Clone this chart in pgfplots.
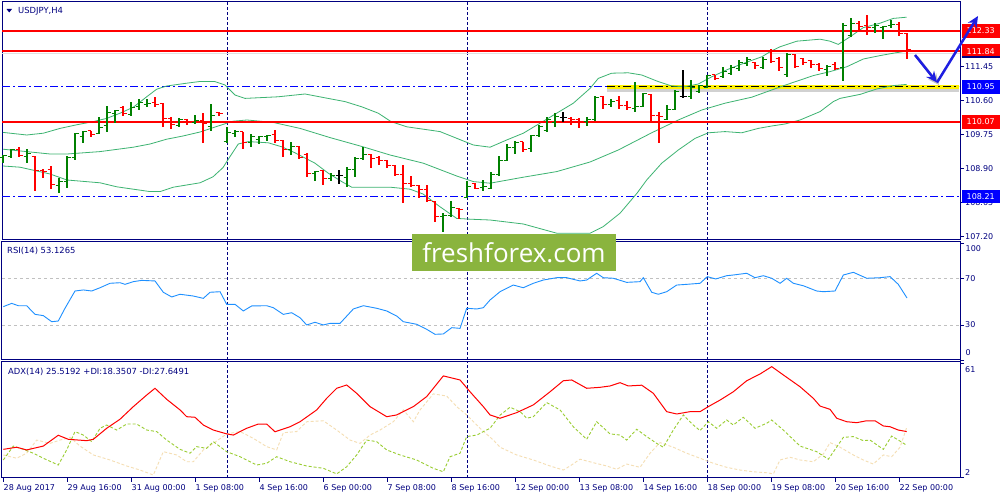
\documentclass[border=0pt]{standalone}
\usepackage{fontspec}
\setmainfont{DejaVu Sans}
\newfontfamily\wmfont{Open Sans}
\usepackage{pgfplots}
\pgfplotsset{compat=1.18}
\usepackage{pgfplotstable}
\usetikzlibrary{arrows.meta}

\definecolor{navy}{RGB}{0,0,128}
\definecolor{upc}{RGB}{0,128,0}
\definecolor{dnc}{RGB}{255,0,0}
\definecolor{band}{RGB}{60,179,113}
\definecolor{rsic}{RGB}{30,144,255}
\definecolor{pdi}{RGB}{154,205,50}
\definecolor{mdi}{RGB}{245,222,179}
\definecolor{hblue}{RGB}{0,0,255}
\definecolor{wm}{RGB}{138,180,62}
\definecolor{arrowc}{RGB}{30,30,225}
\definecolor{silver}{RGB}{192,192,192}

\newcommand{\lbl}{\fontsize{8}{9.6}\selectfont}

\pgfdeclareplotmark{otick}{\pgfpathmoveto{\pgfqpoint{-3.5pt}{0pt}}\pgfpathlineto{\pgfqpoint{0pt}{0pt}}\pgfusepathqstroke}
\pgfdeclareplotmark{ctick}{\pgfpathmoveto{\pgfqpoint{0pt}{0pt}}\pgfpathlineto{\pgfqpoint{3.5pt}{0pt}}\pgfusepathqstroke}

\pgfplotsset{
  mt4/.style={scale only axis, anchor=south west, width=958pt, xmin=-0.125, xmax=119.625,
    axis line style={navy, line width=1pt}, tick style={navy, line width=0.8pt},
    tick align=outside, major tick length=4pt, ytick pos=right, xtick pos=bottom,
    tick label style={font=\lbl, text=navy},
    /pgf/number format/assume math mode=true,
    extra x ticks={28,58,88}, extra x tick labels={},
    extra x tick style={grid=major, major tick length=0pt},
    major grid style={navy, line width=0.9pt, dash pattern=on 3pt off 2pt},
    yticklabel style={anchor=west, inner sep=0pt, xshift=1pt}},
  hlr/.style={only marks, mark=otick, mark options={draw=#1, line width=1pt},
    error bars/y dir=both, error bars/y explicit, error bars/error mark=none,
    error bars/error bar style={draw=#1, line width=1.2pt}},
  cls/.style={only marks, mark=ctick, mark options={draw=#1, line width=1pt}},
  hline/.style={color=#1, solid, line width=1.6pt, mark=none},
}

% OHLC bars (H4), split by colour: up (green), down (red), doji (black)
\pgfplotstableread{
i o h l c
0 109.17 109.25 109.05 109.22
1 109.20 109.39 109.19 109.37
3 109.20 109.39 109.05 109.27
7 108.47 108.66 108.29 108.58
8 108.58 109.22 108.41 109.19
9 109.19 109.79 109.12 109.77
10 109.70 109.85 109.55 109.83
12 109.79 110.19 109.77 109.94
13 109.97 110.47 109.83 110.30
14 110.27 110.37 110.05 110.35
16 110.26 110.56 110.22 110.43
17 110.45 110.64 110.37 110.56
18 110.51 110.64 110.45 110.54
22 109.97 110.16 109.94 110.12
24 110.06 110.24 110.02 110.10
26 109.95 110.52 109.85 110.22
28 109.58 109.95 109.55 109.80
29 109.79 109.87 109.69 109.83
31 109.55 109.77 109.45 109.70
32 109.62 109.72 109.52 109.70
33 109.70 109.75 109.60 109.72
36 109.37 109.58 109.25 109.45
39 108.77 108.85 108.60 108.84
41 108.66 108.79 108.60 108.72
43 108.69 108.95 108.44 108.89
44 108.89 109.19 108.70 109.16
45 109.16 109.44 109.12 109.25
55 107.70 107.80 107.33 107.72
56 107.72 108.10 107.69 107.94
58 108.17 108.60 108.17 108.45
60 108.44 108.62 108.35 108.45
61 108.41 108.83 108.39 108.75
62 108.75 109.22 108.72 109.10
63 109.10 109.52 109.10 109.44
64 109.42 109.60 109.27 109.55
66 109.41 109.75 109.33 109.72
67 109.72 110.00 109.70 109.95
68 109.85 110.20 109.83 110.12
69 110.05 110.29 109.95 110.20
73 110.08 110.19 109.97 110.14
74 110.12 110.72 110.10 110.69
76 110.50 110.64 110.45 110.58
79 110.41 111.08 110.33 110.45
80 110.45 110.80 110.45 110.79
83 110.14 110.50 110.12 110.37
84 110.39 110.87 110.37 110.83
86 110.70 111.12 110.64 110.94
87 110.83 111.00 110.80 110.97
88 110.94 111.25 110.91 111.22
90 111.20 111.44 111.16 111.33
91 111.29 111.50 111.25 111.44
92 111.41 111.62 111.35 111.55
93 111.54 111.69 111.47 111.62
95 111.44 111.69 111.39 111.64
98 111.25 111.79 111.20 111.75
103 111.37 111.50 111.23 111.45
105 111.43 112.54 111.10 112.48
106 112.23 112.66 112.20 112.54
109 112.43 112.54 112.29 112.48
110 112.43 112.48 112.15 112.45
111 112.48 112.62 112.43 112.51
}\barsU
\pgfplotstableread{
i o h l c
2 109.37 109.44 109.20 109.22
4 109.20 109.22 108.35 108.85
5 108.85 108.90 108.66 108.83
6 108.87 108.98 108.39 108.50
11 109.85 109.85 109.69 109.76
15 110.44 110.47 110.23 110.27
19 110.56 110.69 110.45 110.51
20 110.53 110.54 109.94 110.15
21 110.16 110.19 109.89 110.00
23 110.12 110.14 110.00 110.05
25 110.10 110.30 109.55 110.02
27 110.30 110.33 110.22 110.27
30 109.82 109.83 109.39 109.55
34 109.75 109.87 109.55 109.60
35 109.60 109.62 109.20 109.37
37 109.45 109.47 109.14 109.19
38 109.25 109.29 108.70 108.77
40 108.85 108.87 108.50 108.66
46 109.25 109.27 108.91 109.16
47 109.19 109.22 109.00 109.10
48 109.10 109.12 108.91 108.97
49 108.98 109.00 108.72 108.75
50 108.75 109.00 108.05 108.52
51 108.52 108.72 108.44 108.47
52 108.47 108.50 108.16 108.39
53 108.39 108.50 108.08 108.10
54 108.08 108.10 107.58 107.70
57 107.91 107.93 107.64 107.87
59 108.54 108.55 108.39 108.41
65 109.58 109.58 109.33 109.37
71 110.16 110.20 110.00 110.12
72 110.12 110.16 109.91 110.08
75 110.70 110.72 110.39 110.50
77 110.60 110.72 110.39 110.47
78 110.47 110.60 110.37 110.44
81 110.75 110.77 110.08 110.22
82 110.22 110.33 109.55 110.20
89 111.25 111.25 111.12 111.16
94 111.55 111.58 111.39 111.47
96 111.85 111.89 111.55 111.58
97 111.66 111.70 111.35 111.44
99 111.75 111.76 111.43 111.45
100 111.65 111.68 111.50 111.56
101 111.60 111.62 111.43 111.50
102 111.51 111.54 111.35 111.40
104 111.51 111.56 111.37 111.41
107 112.54 112.60 112.37 112.45
108 112.48 112.75 112.25 112.43
112 112.51 112.58 112.23 112.29
113 112.29 112.29 111.65 111.87
}\barsD
\pgfplotstableread{
i o h l c
42 108.72 108.87 108.52 108.72
70 110.19 110.33 110.08 110.19
85 110.70 111.37 110.69 110.70
}\barsN

\begin{document}
\begin{tikzpicture}
\useasboundingbox (0,0) rectangle (1000pt,500pt);
\fill[white] (0,0) rectangle (1000pt,500pt);

% ---------------- price panel ----------------
\begin{axis}[mt4, name=price, at={(2pt,260pt)}, height=238pt, ymin=107.12, ymax=113.07,
  xtick=\empty, ytick={107.20,108.05,108.90,109.75,110.60,111.45},
  yticklabels={107.20,108.05,108.90,109.75,110.60,111.45}]
\addplot[draw=hblue, line width=1.2pt, dash pattern=on 8pt off 3pt on 2pt off 3pt] coordinates {(-0.125,110.95) (75.5,110.95)};
\addplot[draw=hblue, line width=1.2pt, dash pattern=on 8pt off 3pt on 2pt off 3pt] coordinates {(-0.125,108.21) (119.625,108.21)};
\addplot[draw=black!18, line width=4pt] coordinates {(75.5,110.87) (119.5,110.87)};
\addplot[draw=yellow, line width=4.5pt] coordinates {(75.5,110.95) (119.5,110.95)};
\addplot[draw=black, line width=1.2pt, dash pattern=on 8pt off 3pt on 2pt off 3pt] coordinates {(75.5,110.95) (119.5,110.95)};
\addplot[draw=black!12, line width=1.2pt] coordinates {(-0.125,111.79) (119.625,111.79)};
% Bollinger bands
\addplot[draw=band, line width=0.8pt] coordinates {(0,109.81) (2.96,109.745) (5.04,109.79) (7.13,109.91) (9.21,110.00) (11.29,110.08) (12.96,110.16) (14.63,110.29) (16.29,110.44) (17.96,110.70) (19.21,110.89) (20.46,110.97) (22.96,111.04) (24.5,111.08) (26.5,111.08) (27.75,110.995) (29,110.745) (30.25,110.66) (34.38,110.70) (37.75,110.77) (40.63,110.66) (42.75,110.58) (44.84,110.45) (46.91,110.29) (48.5,110.08) (50.46,109.95) (54.63,109.83) (58.79,109.495) (60.88,109.44) (62.96,109.62) (65.04,109.79) (67.13,110.04) (69.21,110.29) (71.29,110.54) (73.38,110.91) (74.41,111.16) (76.08,111.29) (78.16,111.30) (79.84,111.245) (81.91,111.08) (83.59,110.97) (85.25,110.95) (86.91,111.02) (88.59,111.20) (90.66,111.39) (92.75,111.55) (94.84,111.70) (96.09,111.85) (97.13,111.95) (99.21,112.09) (102.13,112.14) (103.38,112.09) (104.41,112.01) (105.88,112.20) (107.54,112.43) (109.63,112.54) (111.29,112.66) (112.96,112.69)};
\addplot[draw=band, line width=0.8pt] coordinates {(0,109.39) (5.88,109.27) (8,109.27) (12.13,109.33) (16.29,109.44) (18.38,109.52) (20.46,109.64) (22.5,109.72) (24.63,109.82) (26.75,109.96) (28.75,110.09) (30.5,110.12) (33.75,110.06) (37.13,109.91) (40.88,109.68) (45,109.45) (48.38,109.245) (52.54,109.04) (56.71,108.72) (58.79,108.58) (60.88,108.54) (65.04,108.69) (69.21,108.83) (73.38,109.07) (76.91,109.37) (81.08,109.80) (84.41,110.12) (87.34,110.37) (90.25,110.54) (93.59,110.69) (97.75,110.99) (101.29,111.23) (103.38,111.33) (105.46,111.45) (107.54,111.645) (109.63,111.73) (111.29,111.79) (112.96,111.845)};
\addplot[draw=band, line width=0.8pt] coordinates {(0,108.97) (2.13,108.94) (5.88,108.77) (8,108.62) (12.13,108.55) (14.21,108.45) (18.38,108.33) (19.63,108.33) (21.29,108.44) (24.63,108.55) (26.25,108.70) (27.5,108.93) (28.16,109.14) (29.41,109.52) (30.66,109.58) (33.16,109.55) (34.84,109.45) (36.5,109.30) (39,109.04) (40.66,108.79) (42.34,108.58) (43.59,108.44) (46,108.44) (48.38,108.44) (50.88,108.39) (52.5,108.27) (54.63,107.95) (56.71,107.66) (58.38,107.64) (60.88,107.62) (65.04,107.52) (69.21,107.29) (73.38,107.29) (75,107.45) (77.13,107.79) (79.25,108.29) (80.46,108.62) (82.34,109.04) (84.41,109.37) (86.5,109.66) (88.16,109.80) (90.25,109.83) (92.34,109.80) (94.41,109.91) (96.09,109.97) (97.75,110.02) (99.63,110.12) (102.13,110.33) (103.79,110.58) (104.63,110.66) (107.13,110.76) (109.21,110.895) (111.29,110.98) (112.96,111.01)};
% support / resistance lines (red)
\addplot[hline=dnc] table[row sep=\\] {x y\\ -0.125 112.35\\ 119.625 112.35\\};
\addplot[hline=dnc] table[row sep=\\] {x y\\ -0.125 111.84\\ 119.625 111.84\\};
\addplot[hline=dnc] table[row sep=\\] {x y\\ -0.125 110.07\\ 119.625 110.07\\};
% OHLC bars: high-low range with open tick, then close tick
\addplot[hlr=upc] table[x=i, y=o, y error plus expr=\thisrow{h}-\thisrow{o}, y error minus expr=\thisrow{o}-\thisrow{l}] {\barsU};
\addplot[cls=upc] table[x=i, y=c] {\barsU};
\addplot[hlr=dnc] table[x=i, y=o, y error plus expr=\thisrow{h}-\thisrow{o}, y error minus expr=\thisrow{o}-\thisrow{l}] {\barsD};
\addplot[cls=dnc] table[x=i, y=c] {\barsD};
\addplot[hlr=black] table[x=i, y=o, y error plus expr=\thisrow{h}-\thisrow{o}, y error minus expr=\thisrow{o}-\thisrow{l}] {\barsN};
\addplot[cls=black] table[x=i, y=c] {\barsN};
\coordinate (p1) at (axis cs:119.625,112.35);
\coordinate (p2) at (axis cs:119.625,111.84);
\coordinate (p3) at (axis cs:119.625,110.95);
\coordinate (p4) at (axis cs:119.625,110.07);
\coordinate (p5) at (axis cs:119.625,108.21);
\end{axis}

% ---------------- RSI panel ----------------
\begin{axis}[mt4, name=rsi, at={(2pt,140pt)}, height=118.5pt, ymin=0, ymax=101.5,
  xtick=\empty, ytick={0,30,70,100}, yticklabels={{},30,70,{}}]
\addplot[draw=silver, line width=0.8pt, dash pattern=on 3pt off 3pt] coordinates {(-0.125,30) (119.625,30)};
\addplot[draw=silver, line width=0.8pt, dash pattern=on 3pt off 3pt] coordinates {(-0.125,70) (119.625,70)};
\addplot[draw=rsic, line width=0.9pt] coordinates {(0.04,45.7) (1.09,48.5) (1.91,46.5) (2.96,46.5) (4.0,39.1) (5.04,38.0) (6.09,32.8) (6.91,33.4) (7.75,44.3) (9.0,59.1) (10.04,60.0) (11.09,59.1) (12.13,61.9) (13.38,65.7) (14.63,66.2) (15.25,64.8) (16.29,67.1) (17.34,68.2) (19.0,67.7) (20.04,58.0) (21.09,54.0) (22.13,56.3) (23.79,54.8) (25.04,52.8) (25.88,58.0) (27.13,58.5) (27.96,47.7) (29.0,47.7) (30.04,42.0) (31.09,46.3) (32.96,46.5) (33.79,44.8) (35.04,39.1) (36.09,40.5) (37.13,36.2) (37.96,30.0) (39.0,32.3) (40.04,30.0) (40.88,31.4) (42.13,31.4) (43.79,43.7) (45.04,46.5) (46.71,44.3) (47.96,42.0) (49.21,37.7) (50.04,32.8) (51.71,30.6) (52.96,26.3) (54.0,22.0) (55.04,22.3) (56.09,27.7) (57.13,27.1) (57.96,44.3) (59.21,43.7) (60.04,44.8) (60.88,51.4) (62.13,58.5) (63.79,64.2) (65.04,61.9) (66.29,65.7) (67.54,68.5) (69.21,70.5) (70.46,70.5) (72.13,67.7) (72.96,68.5) (74.21,74.3) (75.04,70.5) (76.29,70.0) (77.96,66.5) (79.63,67.1) (80.04,70.5) (81.09,58.0) (81.91,56.3) (82.96,58.5) (84.21,64.2) (85.46,64.8) (87.13,65.7) (88.04,71.4) (89.09,69.4) (90.46,72.2) (91.29,72.8) (92.96,74.3) (94.0,70.5) (95.04,72.2) (96.09,70.0) (97.13,65.7) (97.96,70.0) (98.79,65.7) (100.04,63.6) (101.71,59.1) (102.54,58.5) (104.0,59.1) (105.04,72.8) (106.29,75.1) (107.96,70.0) (109.63,70.5) (110.88,71.4) (111.91,64.8) (113,53.1)};
\end{axis}

% ---------------- ADX panel ----------------
\begin{axis}[mt4, name=adx, at={(2pt,22pt)}, height=116pt, ymin=1.48, ymax=61.5,
  xtick={0,8,...,112},
  xticklabels={28 Aug 2017,29 Aug 16:00,31 Aug 00:00,1 Sep 08:00,4 Sep 16:00,6 Sep 00:00,7 Sep 08:00,8 Sep 16:00,12 Sep 00:00,13 Sep 08:00,14 Sep 16:00,18 Sep 00:00,19 Sep 08:00,20 Sep 16:00,22 Sep 00:00},
  xticklabel style={anchor=north west, inner sep=0pt, xshift=0.5pt, yshift=-2pt},
  ytick={2,61}, yticklabels={{},{}}]
\addplot[draw=mdi, line width=0.9pt, dash pattern=on 3pt off 2pt] coordinates {(0.04,13.4) (1.71,11.7) (2.96,14.3) (4.21,21.1) (5.88,19.4) (7.13,21.1) (8.38,22.5) (9.63,18.0) (11.29,13.4) (13.38,10.8) (15.46,7.7) (17.13,5.6) (18.79,3.0) (20.04,15.1) (21.71,13.4) (22.96,9.9) (23.79,9.9) (25.04,16.0) (26.29,19.4) (27.96,24.3) (29.63,25.5) (31.29,22.0) (32.96,17.7) (34.21,16.0) (35.04,24.9) (36.71,25.5) (37.96,30.6) (40.04,31.1) (41.71,26.3) (43.38,21.1) (44.63,19.4) (45.88,23.7) (47.13,26.3) (48.79,30.6) (50.04,36.7) (51.29,30.6) (52.13,36.7) (53.79,45.0) (55.46,43.9) (56.71,38.4) (57.96,34.1) (59.63,27.2) (61.29,21.1) (62.13,17.4) (64.21,13.4) (66.29,10.8) (68.38,7.7) (70.04,5.6) (70.88,7.7) (72.13,11.2) (73.79,9.4) (75.46,7.7) (76.71,6.0) (77.96,8.7) (79.63,7.0) (80.88,14.3) (82.13,19.8) (83.79,17.4) (85.46,14.3) (87.13,11.7) (88.79,9.1) (90.46,7.0) (92.13,5.6) (93.79,4.7) (95.46,4.2) (96.29,3.6) (97.13,10.8) (98.38,12.2) (99.63,10.8) (101.29,9.9) (102.54,13.9) (103.38,19.8) (104.63,17.4) (106.29,13.4) (107.54,10.8) (108.79,8.7) (110.04,13.4) (111.08,12.5) (112.13,17.4) (112.96,27.6)};
\addplot[draw=pdi, line width=0.9pt, dash pattern=on 3pt off 2pt] coordinates {(0.04,10.8) (1.29,18.0) (2.54,16.3) (3.79,14.3) (5.04,11.7) (6.91,8.2) (7.96,16.0) (9.0,25.5) (10.04,23.7) (11.09,20.3) (12.13,27.2) (12.96,28.9) (14.21,26.3) (15.46,29.4) (16.71,29.4) (17.96,26.3) (19.21,25.5) (20.46,21.1) (22.13,16.3) (23.38,14.3) (24.21,17.7) (25.46,16.8) (26.29,20.3) (27.96,15.1) (29.63,12.5) (31.71,8.2) (32.96,9.1) (34.21,12.5) (35.88,9.9) (37.96,7.7) (40.04,6.5) (41.71,3.6) (42.96,7.3) (44.21,13.4) (45.46,21.1) (46.71,20.3) (47.96,16.0) (49.63,13.4) (51.71,10.8) (53.79,6.5) (55.04,4.7) (55.88,12.5) (57.13,14.3) (57.96,22.9) (59.21,23.7) (60.88,27.2) (62.13,34.0) (63.38,38.1) (64.63,35.8) (65.46,32.4) (66.29,33.2) (67.96,40.5) (69.63,36.7) (71.29,28.0) (72.96,21.5) (74.21,30.6) (75.88,24.3) (77.13,23.7) (77.96,21.1) (79.21,26.7) (80.46,22.9) (81.71,19.4) (82.54,17.4) (83.79,26.3) (85.04,34.1) (86.29,28.9) (87.13,26.0) (88.17,30.6) (89.21,27.2) (90.46,31.5) (91.29,28.9) (92.54,32.9) (94.0,27.2) (95.46,29.8) (96.08,31.5) (97.54,26.3) (99.63,18.0) (101.71,15.1) (103.17,11.2) (105.04,22.5) (106.29,22.9) (107.54,20.8) (108.38,21.1) (110.04,16.3) (111.08,23.2) (111.92,21.1) (112.96,18.4)};
\addplot[draw=dnc, line width=1pt] coordinates {(0.04,16.3) (1.71,17.4) (2.96,16.0) (5.04,18.0) (6.91,23.6) (8.16,21.5) (10.46,20.8) (11.29,21.5) (12.96,27.2) (14.63,31.9) (16.29,38.4) (17.96,44.4) (19.0,47.9) (20.46,42.2) (22.13,36.7) (22.96,33.2) (24.0,32.9) (25.04,28.9) (26.29,26.3) (27.96,24.3) (28.79,23.7) (30.46,27.2) (31.91,29.4) (32.96,29.4) (34.0,25.4) (35.88,28.0) (37.13,30.6) (39.21,36.7) (40.46,42.7) (41.71,47.9) (42.96,49.6) (44.21,45.3) (45.88,38.4) (47.96,33.2) (49.21,34.1) (51.29,38.4) (52.96,43.6) (55.04,54.3) (57.13,52.2) (58.38,46.1) (60.04,38.4) (60.88,34.1) (62.13,32.4) (64.21,35.3) (66.29,39.3) (68.38,46.1) (70.04,51.8) (71.09,52.2) (72.96,47.9) (74.63,48.4) (75.88,49.1) (77.13,50.8) (78.16,49.1) (79.84,49.5) (81.29,45.3) (82.96,35.8) (84.21,34.6) (85.88,35.8) (87.13,35.8) (88.16,38.4) (89.63,41.8) (91.29,46.1) (92.96,51.8) (94.63,55.3) (96.09,59.1) (97.54,54.8) (99.63,48.7) (101.29,42.7) (102.13,38.7) (103.38,37.0) (104.21,32.4) (105.46,30.6) (106.71,30.1) (107.96,31.1) (109.0,31.1) (110.04,28.4) (110.88,28.0) (111.91,26.3) (112.96,25.5)};
\end{axis}

% ---------------- labels and annotations ----------------
\foreach \cc/\lt/\ff in {p1/112.33/dnc, p2/111.84/dnc, p3/110.95/hblue, p4/110.07/dnc, p5/108.21/hblue}
  \node[fill=\ff, text=white, anchor=west, minimum width=38pt, minimum height=13.5pt, inner sep=0pt, font=\lbl] at ([xshift=1.5pt]\cc) {\lt};
\draw[navy, line width=2.5pt] ([xshift=1.5pt, yshift=-6pt]p2) -- ++(38pt,0);

\node[anchor=west, inner sep=0pt, text=navy, font=\lbl] at ([xshift=5.5pt, yshift=-7.5pt]rsi.north east) {100};
\node[anchor=west, inner sep=0pt, text=navy, font=\lbl] at ([xshift=5.5pt, yshift=7pt]rsi.south east) {0};
\node[anchor=west, inner sep=0pt, text=navy, font=\lbl] at ([xshift=5pt, yshift=-8pt]adx.north east) {61};
\node[anchor=west, inner sep=0pt, text=navy, font=\lbl] at ([xshift=5pt, yshift=5.5pt]adx.south east) {2};

\fill[navy] (6.5pt,491pt) -- (12pt,491pt) -- (9.25pt,487.5pt) -- cycle;
\node[anchor=west, inner sep=0pt, text=navy, font=\fontsize{8.4}{10}\selectfont] at (18pt,489pt) {USDJPY,H4};
\node[anchor=west, inner sep=0pt, text=navy, font=\fontsize{8.4}{10}\selectfont] at (7pt,249pt) {RSI(14) 53.1265};
\node[anchor=west, inner sep=0pt, text=navy, font=\fontsize{8.4}{10}\selectfont] at (8pt,128.5pt) {ADX(14) 25.5192 +DI:18.3507 -DI:27.6491};

% watermark
\node[fill=wm, minimum width=204pt, minimum height=37pt, inner sep=0pt, text=white, font=\wmfont\fontsize{26}{30}\selectfont] at (514pt,247.5pt) {freshforex.com};

% arrow annotation
\draw[black!25, line width=2.5pt, -{Stealth[length=11pt,width=10pt]}] (917pt,443pt) -- (939pt,415pt);
\draw[arrowc, line width=2.5pt, -{Stealth[length=11pt,width=10pt]}] (915pt,445pt) -- (937pt,417.5pt);
\draw[arrowc, line width=2.5pt, -{Stealth[length=11pt,width=10pt]}] (937pt,417.5pt) -- (978pt,484pt);
\end{tikzpicture}
\end{document}
